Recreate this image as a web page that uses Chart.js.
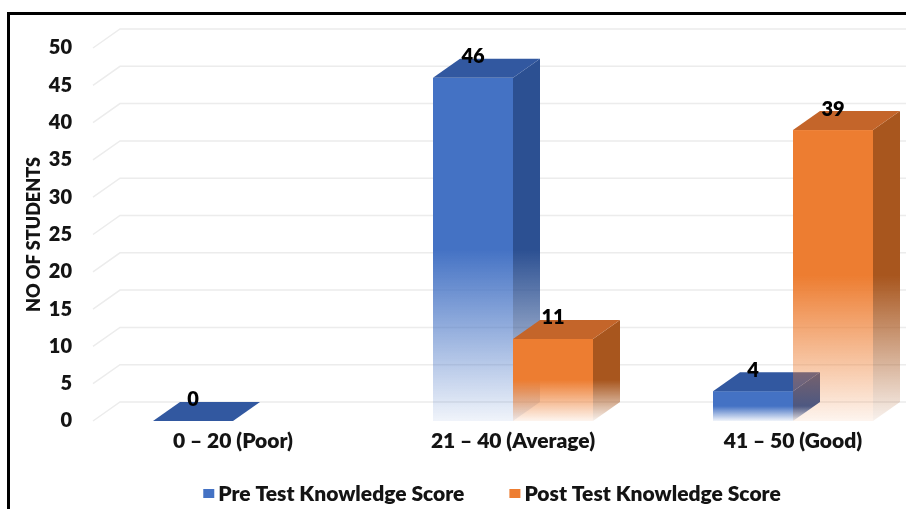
<!DOCTYPE html>
<html>
<head>
<meta charset="utf-8">
<script src="https://cdn.jsdelivr.net/npm/chart.js@4.4.0/dist/chart.umd.min.js"></script>
<style>
  html, body { margin: 0; padding: 0; background: #fff; overflow: hidden; }
  #frame {
    position: absolute; left: 7px; top: 12px; width: 1000px; height: 600px;
    border-left: 3px solid #000; border-top: 3px solid #000; overflow: hidden;
  }
  canvas { display: block; }
</style>
</head>
<body>
<div id="frame"><canvas id="chart" width="960" height="494"></canvas></div>
<script>
const categories = ['0 – 20 (Poor)', '21 – 40 (Average)', '41 – 50 (Good)'];
const preTestScores = [0, 46, 4];
const postTestScores = [null, 11, 39]; // no bar drawn for Poor in the post test
const seriesNames = ['Pre Test Knowledge Score', 'Post Test Knowledge Score'];
const yMax = 50;
const yStep = 5;

const FONT = 'Lato, "Open Sans", sans-serif';
const WEIGHT = 800;
const TEXT = '#141414';
const DEPTH_X = 27;
const DEPTH_Y = 19;

const palette = [
    { front: [68, 114, 196], side: [44, 80, 146], top: [50, 88, 160] },
    { front: [237, 125, 49], side: [168, 86, 30], top: [196, 101, 42] }
];

function rgba(c, a) {
    return `rgba(${c[0]}, ${c[1]}, ${c[2]}, ${a})`;
}

// solid for the upper half of a bar, washing out towards the floor
function fadeFill(ctx, c, top, base) {
    if (base - top < 1) return rgba(c, 1);
    const g = ctx.createLinearGradient(0, top, 0, base);
    g.addColorStop(0, rgba(c, 1));
    g.addColorStop(0.5, rgba(c, 1));
    g.addColorStop(1, rgba(c, 0.08));
    return g;
}

function drawBar(ctx, bar, col) {
    const { x, y, base, width } = bar.getProps(['x', 'y', 'base', 'width'], true);
    const l = x - width / 2;
    const r = x + width / 2;

    ctx.fillStyle = fadeFill(ctx, col.front, y, base);
    ctx.fillRect(l, y, width, base - y);

    ctx.fillStyle = fadeFill(ctx, col.side, y, base);
    ctx.beginPath();
    ctx.moveTo(r, y);
    ctx.lineTo(r + DEPTH_X, y - DEPTH_Y);
    ctx.lineTo(r + DEPTH_X, base - DEPTH_Y);
    ctx.lineTo(r, base);
    ctx.closePath();
    ctx.fill();

    ctx.fillStyle = rgba(col.top, 1);
    ctx.beginPath();
    ctx.moveTo(l, y);
    ctx.lineTo(r, y);
    ctx.lineTo(r + DEPTH_X, y - DEPTH_Y);
    ctx.lineTo(l + DEPTH_X, y - DEPTH_Y);
    ctx.closePath();
    ctx.fill();
}

const bars3d = {
    id: 'bars3d',
    beforeDatasetsDraw(chart) {
        // gridlines on the back wall, with the short diagonal on the side wall
        const { ctx, chartArea, scales: { y } } = chart;
        ctx.save();
        ctx.strokeStyle = '#ececec';
        ctx.lineWidth = 1.5;
        y.ticks.forEach(t => {
            const py = y.getPixelForValue(t.value);
            ctx.beginPath();
            ctx.moveTo(chartArea.left, py);
            ctx.lineTo(chartArea.left + DEPTH_X, py - DEPTH_Y);
            ctx.lineTo(chart.width, py - DEPTH_Y);
            ctx.stroke();
        });
        ctx.restore();
    },
    beforeDatasetDraw() {
        return false; // bars are drawn as 3D boxes below
    },
    afterDatasetsDraw(chart) {
        const { ctx } = chart;
        ctx.save();
        chart.data.datasets.forEach((ds, di) => {
            chart.getDatasetMeta(di).data.forEach((bar, i) => {
                if (ds.data[i] === null || ds.data[i] === undefined) return;
                drawBar(ctx, bar, palette[di]);
            });
        });

        ctx.font = `${WEIGHT} 20px ${FONT}`;
        ctx.fillStyle = '#000';
        ctx.textAlign = 'center';
        ctx.textBaseline = 'middle';
        chart.data.datasets.forEach((ds, di) => {
            chart.getDatasetMeta(di).data.forEach((bar, i) => {
                if (ds.data[i] === null || ds.data[i] === undefined) return;
                ctx.fillText(String(ds.data[i]), bar.x, bar.y - 21);
            });
        });
        ctx.restore();
    },
    afterDraw(chart) {
        // legend: small squares, centred pair below the axis labels
        const { ctx } = chart;
        ctx.save();
        ctx.font = `${WEIGHT} 21px ${FONT}`;
        ctx.textBaseline = 'middle';
        ctx.textAlign = 'left';
        const box = 11, gap = 4, between = 45;
        const widths = seriesNames.map(n => ctx.measureText(n).width);
        const total = widths.reduce((s, w) => s + box + gap + w, 0) + between;
        let x = 482 - total / 2;
        const cy = 479;
        seriesNames.forEach((name, i) => {
            ctx.fillStyle = rgba(palette[i].front, 1);
            ctx.fillRect(x, cy - 5, box, 9);
            x += box + gap;
            ctx.fillStyle = TEXT;
            ctx.fillText(name, x, cy);
            x += widths[i] + between;
        });
        ctx.restore();
    }
};

new Chart(document.getElementById('chart'), {
    type: 'bar',
    data: {
        labels: categories,
        datasets: [
            {
                label: seriesNames[0],
                data: preTestScores,
                backgroundColor: rgba(palette[0].front, 1)
            },
            {
                label: seriesNames[1],
                data: postTestScores,
                backgroundColor: rgba(palette[1].front, 1)
            }
        ]
    },
    options: {
        responsive: false,
        animation: false,
        categoryPercentage: 160 / 280,
        barPercentage: 1,
        layout: {
            padding: { top: 17, bottom: 0, left: 0, right: 0 }
        },
        scales: {
            x: {
                grid: { display: false, drawTicks: false },
                border: { display: false },
                ticks: {
                    color: TEXT,
                    font: { family: FONT, weight: WEIGHT, size: 21 },
                    padding: 8,
                    maxRotation: 0
                },
                afterFit(scale) { scale.height = 88; }
            },
            y: {
                min: 0,
                max: yMax,
                grid: { display: false, drawTicks: false },
                border: { display: false },
                ticks: {
                    stepSize: yStep,
                    color: TEXT,
                    font: { family: FONT, weight: WEIGHT, size: 20 },
                    padding: 21
                },
                title: {
                    display: true,
                    text: 'NO OF STUDENTS',
                    color: TEXT,
                    font: { family: FONT, weight: WEIGHT, size: 18 },
                    padding: { top: 13 }
                },
                afterFit(scale) { scale.width = 83; }
            },
            yRight: {
                position: 'right',
                grid: { display: false, drawTicks: false },
                border: { display: false },
                ticks: { display: false },
                afterFit(scale) { scale.width = 37; }
            }
        },
        plugins: {
            legend: { display: false },
            tooltip: { enabled: false }
        }
    },
    plugins: [bars3d]
});
</script>
</body>
</html>
